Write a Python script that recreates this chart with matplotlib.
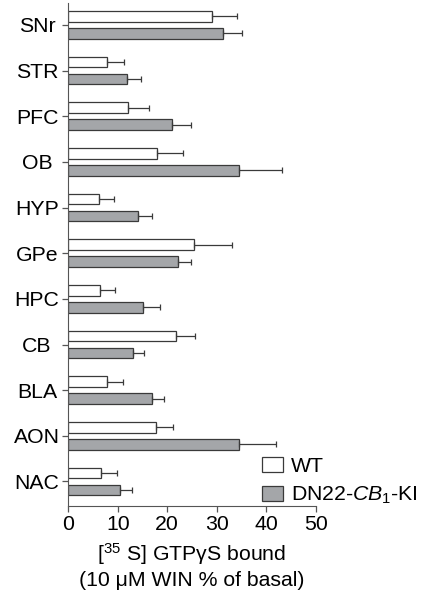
import numpy as np
import matplotlib
matplotlib.use("Agg")
import matplotlib.pyplot as plt
from matplotlib.patches import Patch

plt.rcParams['font.family'] = ['Liberation Sans', 'DejaVu Sans']
plt.rcParams['mathtext.fontset'] = 'custom'
plt.rcParams['mathtext.rm'] = 'Liberation Sans'
plt.rcParams['mathtext.it'] = 'Liberation Sans:italic'

regions = ['SNr', 'STR', 'PFC', 'OB', 'HYP', 'GPe', 'HPC', 'CB', 'BLA', 'AON', 'NAC']
wt_mean = [29.0, 7.8, 12.1, 18.0, 6.3, 25.4, 6.5, 21.8, 7.9, 17.7, 6.6]
wt_top = [34.0, 11.2, 16.4, 23.1, 9.3, 33.1, 9.5, 25.6, 11.0, 21.1, 9.9]
ki_mean = [31.3, 11.9, 20.9, 34.5, 14.1, 22.2, 15.2, 13.1, 17.0, 34.6, 10.4]
ki_top = [35.2, 14.7, 24.8, 43.1, 16.9, 24.7, 18.6, 15.3, 19.3, 42.0, 12.8]
xticks = [0, 10, 20, 30, 40, 50]

wt_mean = np.array(wt_mean)
ki_mean = np.array(ki_mean)
wt_err = np.array(wt_top) - wt_mean
ki_err = np.array(ki_top) - ki_mean

grey = '#a4a6a9'
edge = '#3a3a3a'
fs = 15.3

fig = plt.figure(figsize=(4.24, 5.99), dpi=100)
ax = fig.add_axes([0.161, 0.155, 0.5836, 0.84])

y = np.arange(len(regions))
off = 0.186
h = 0.235

ax.barh(y - off, wt_mean, height=h, color='white', edgecolor=edge, linewidth=0.9)
ax.barh(y + off, ki_mean, height=h, color=grey, edgecolor=edge, linewidth=0.9)
ax.errorbar(wt_mean, y - off, xerr=[np.zeros_like(wt_err), wt_err], fmt='none',
            ecolor=edge, elinewidth=0.9, capsize=2.2, capthick=0.9)
ax.errorbar(ki_mean, y + off, xerr=[np.zeros_like(ki_err), ki_err], fmt='none',
            ecolor=edge, elinewidth=0.9, capsize=2.2, capthick=0.9)

ax.set_xlim(0, 50)
ax.set_ylim(10.54, -0.48)
ax.set_yticks(y)
ax.set_yticklabels(regions, fontsize=fs, ha='center')
ax.set_xticks(xticks)
ax.set_xticklabels([str(t) for t in xticks], fontsize=fs)
ax.spines['top'].set_visible(False)
ax.spines['right'].set_visible(False)
ax.spines['left'].set_color('#555555')
ax.spines['bottom'].set_color('#555555')
ax.tick_params(axis='both', direction='out', length=4.5, width=0.9, color='#555555')
ax.tick_params(axis='x', pad=2)
ax.tick_params(axis='y', pad=18)

ax.set_xlabel('[$^{35}$ S] GTP\u03b3S bound\n(10 \u03bcM WIN % of basal)',
              fontsize=fs, labelpad=5, linespacing=1.25)

handles = [Patch(facecolor='white', edgecolor=edge, linewidth=0.9, label='WT'),
           Patch(facecolor=grey, edgecolor=edge, linewidth=0.9,
                 label='DN22-$\\mathit{CB}_{\\mathit{1}}$-KI')]
fig.legend(handles=handles, loc='lower left', bbox_to_anchor=(0.582, 0.13),
           frameon=False, fontsize=fs, handlelength=1.0, handleheight=0.75,
           handletextpad=0.4, labelspacing=0.42, borderpad=0.2)

fig.savefig('out.png', dpi=100)
